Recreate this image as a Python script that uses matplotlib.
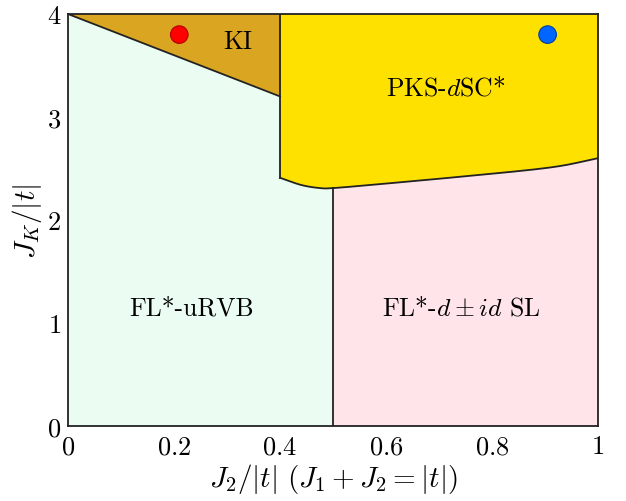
import matplotlib
matplotlib.use("Agg")
import matplotlib.pyplot as plt
import numpy as np

plt.rcParams['font.family'] = ['cmr10', 'DejaVu Serif']
plt.rcParams['mathtext.fontset'] = 'cm'
plt.rcParams['axes.formatter.use_mathtext'] = True

# Phase boundary between PKS-dSC* and the FL* phases
curve_x = [0.40, 0.44, 0.475, 0.50, 0.57, 0.74, 0.91, 1.00]
curve_y = [2.41, 2.34, 2.31, 2.31, 2.34, 2.42, 2.51, 2.60]

# KI / FL*-uRVB boundary line
ki_x = [0.0, 0.4]
ki_y = [4.0, 3.2]
x_split = 0.5          # vertical boundary between FL* phases
x_ki = 0.4             # left edge of PKS-dSC*

markers_x = [0.21, 0.905]
markers_y = [3.8, 3.8]
marker_colors = ['#ff0000', '#0066ff']
marker_edges = ['#b00000', '#003d99']

labels = ['KI', 'PKS-$d$SC*', 'FL*-uRVB', 'FL*-$d\\pm id$ SL']
label_x = [0.321, 0.713, 0.233, 0.742]
label_y = [3.74, 3.29, 1.15, 1.15]

c_green = '#ebfdf3'
c_gold = '#daa520'
c_yellow = '#ffe100'
c_pink = '#ffe4ea'


def smooth(xs, ys, n=20):
    """Catmull-Rom spline through the read points (for a smooth drawn line)."""
    P = np.column_stack([xs, ys])
    P = np.vstack([P[0] - (P[1] - P[0]), P, P[-1] + (P[-1] - P[-2])])
    out = []
    for i in range(1, len(P) - 2):
        p0, p1, p2, p3 = P[i - 1], P[i], P[i + 1], P[i + 2]
        for t in np.linspace(0, 1, n, endpoint=False):
            t2, t3 = t * t, t * t * t
            pt = 0.5 * ((2 * p1) + (-p0 + p2) * t + (2 * p0 - 5 * p1 + 4 * p2 - p3) * t2
                        + (-p0 + 3 * p1 - 3 * p2 + p3) * t3)
            out.append(pt)
    out.append(P[-2])
    out = np.array(out)
    return out[:, 0], out[:, 1]


fig = plt.figure(figsize=(6.26, 5.02), dpi=100)
ax = fig.add_axes([0.1086, 0.1494, 0.8466, 0.8207])

cx, cy = smooth(curve_x, curve_y)
y_at_split = np.interp(x_split, cx, cy)

ax.fill([0, x_split, x_split, 0], [0, 0, 4, 4], color=c_green, lw=0, zorder=1)
ax.fill([x_split, 1, 1, x_split], [0, 0, 4, 4], color=c_pink, lw=0, zorder=1)
ax.fill([ki_x[0], ki_x[1], ki_x[1]], [ki_y[0], 4.0, ki_y[1]], color=c_gold, lw=0, zorder=2)
px = np.concatenate([[x_ki], cx, [1.0, x_ki]])
py = np.concatenate([[4.0], cy, [4.0, 4.0]])
ax.fill(px, py, color=c_yellow, lw=0, zorder=2)

lc = '#222222'
ax.plot(ki_x, ki_y, color=lc, lw=1.3, zorder=3)
ax.plot([x_ki, x_ki], [4.0, curve_y[0]], color=lc, lw=1.3, zorder=3)
ax.plot(cx, cy, color=lc, lw=1.3, zorder=3)
ax.plot([x_split, x_split], [0, y_at_split], color=lc, lw=1.3, zorder=3)

ax.scatter(markers_x, markers_y, s=160, c=marker_colors, edgecolors=marker_edges,
           linewidths=0.8, zorder=4)

for t, x, y in zip(labels, label_x, label_y):
    ax.text(x, y, t, ha='center', va='center', fontsize=18.5, zorder=5)

ax.set_xlim(0, 1)
ax.set_ylim(0, 4)
ax.set_xticks([0, 0.2, 0.4, 0.6, 0.8, 1])
ax.set_xticklabels(['$0$', '$0.2$', '$0.4$', '$0.6$', '$0.8$', '$1$'])
ax.set_yticks([0, 1, 2, 3, 4])
ax.set_yticklabels(['$0$', '$1$', '$2$', '$3$', '$4$'])
ax.tick_params(length=0, labelsize=19)
ax.tick_params(axis='x', pad=6)
ax.tick_params(axis='y', pad=5)
for s in ax.spines.values():
    s.set_linewidth(1.3)
    s.set_color(lc)
    s.set_zorder(6)

ax.set_xlabel(r'$J_2/|t|\ (J_1+J_2=|t|)$', fontsize=21, labelpad=2)
ax.set_ylabel(r'$J_K/|t|$', fontsize=21, labelpad=2)

fig.savefig('out.png', dpi=100)
